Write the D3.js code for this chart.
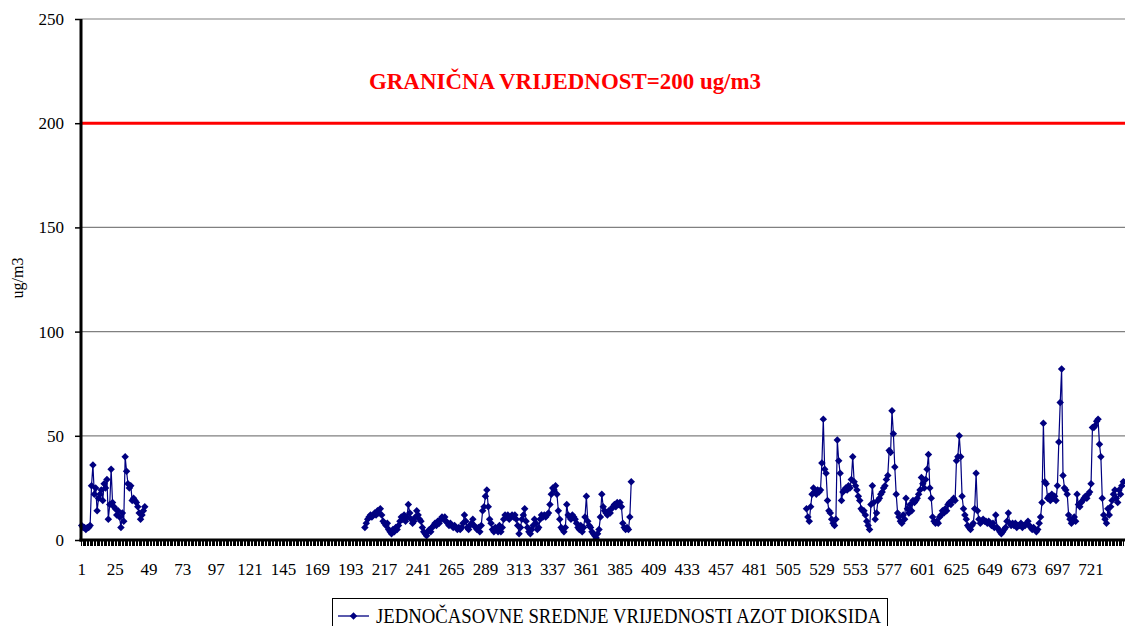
<!DOCTYPE html>
<html>
<head>
<meta charset="utf-8">
<script src="https://cdn.jsdelivr.net/npm/d3@7"></script>
<style>
  html, body { margin: 0; padding: 0; background: #fff; overflow: hidden; }
  svg { display: block; }
  svg text { font-family: 'Liberation Serif', 'Times New Roman', Times, serif; }
</style>
</head>
<body>
<div class="chart"></div>
<script>
// hourly NO2 means for one month (744 h), measured in three runs
const hourCount = 744;
const xTickLabels = [1, 25, 49, 73, 97, 121, 145, 169, 193, 217, 241, 265, 289, 313, 337, 361, 385, 409, 433, 457, 481, 505, 529, 553, 577, 601, 625, 649, 673, 697, 721];
const yTicks = [0, 50, 100, 150, 200, 250];
const limitValue = 200;
const limitLabel = 'GRANIČNA VRIJEDNOST=200 ug/m3';
const seriesName = 'JEDNOČASOVNE SREDNJE VRIJEDNOSTI AZOT DIOKSIDA';
const yTitle = 'ug/m3';

const seg1Start = 1;
const seg1Values = [7, 6, 6, 5, 6, 6, 7, 26, 36, 22, 25, 14, 20, 22, 24, 19, 27, 25, 29, 10,
  17, 34, 18, 16, 15, 12, 14, 11, 6, 13, 9,
  40, 33, 27, 25, 26, 19, 20, 19, 18, 16, 13, 10, 12, 14, 16];

const seg2Start = 203;
const seg2Values = [6, 8, 10, 11, 12, 11, 12, 13, 12, 14,
  13, 15, 12, 9, 8, 7, 8, 5, 4, 3,
  5, 4, 6, 5, 7, 9, 11, 10, 12, 9,
  11, 17, 13, 10, 8, 9, 11, 14, 12, 10,
  9, 6, 4, 3, 2, 4, 5, 4, 6, 7,
  8, 7, 9, 8, 10, 11, 10, 11, 9, 8,
  7, 8, 7, 6, 7, 6, 5, 6, 5, 6,
  8, 12, 9, 6, 5, 7, 8, 10, 7, 6,
  5, 6, 4, 7, 14, 16, 21, 24, 16, 10,
  8, 5, 4, 6, 5, 4, 7, 4, 6, 10,
  12, 11, 12, 10, 11, 12, 11, 12, 10, 7,
  3, 6, 10, 12, 15, 9, 6, 4, 3, 5,
  7, 10, 8, 5, 6, 10, 12, 11, 12, 11,
  12, 13, 17, 22, 25, 24, 26, 22, 14, 10,
  6, 5, 4, 6, 17, 12, 11, 10, 12, 11,
  10, 8, 6, 5, 7, 4, 6, 11, 21, 9,
  7, 6, 4, 3, 2, 1, 3, 5, 11, 22,
  16, 14, 13, 12, 14, 13, 15, 16, 17, 16,
  18, 17, 18, 16, 8, 6, 5, 6, 5, 11,
  28];

const seg3Start = 518;
const seg3Values = [15, 11, 9, 16, 22, 25, 23, 22, 24, 23,
  24, 37, 58, 34, 32, 19, 14, 13, 10, 8,
  7, 10, 48, 38, 32, 19, 23, 24, 25, 24,
  26, 25, 29, 40, 28, 26, 24, 21, 19, 15,
  14, 14, 12, 9, 7, 5, 17, 26, 18, 10,
  13, 19, 20, 22, 23, 25, 26, 29, 31, 43,
  42, 62, 51, 35, 22, 13, 11, 9, 8, 12,
  10, 20, 15, 13, 17, 14, 19, 18, 19, 20,
  22, 24, 30, 27, 25, 29, 34, 41, 25, 20,
  11, 9, 8, 9, 8, 11, 12, 14, 13, 15,
  14, 17, 18, 17, 19, 20, 19, 38, 40, 50,
  40, 21, 15, 12, 10, 7, 6, 5, 7, 8,
  15, 32, 14, 10, 8, 9, 10, 9, 9, 8,
  9, 8, 7, 8, 6, 12, 6, 5, 4, 3,
  4, 5, 6, 9, 13, 8, 7, 8, 7, 8,
  6, 7, 7, 8, 6, 7, 7, 8, 9, 7,
  6, 5, 6, 5, 4, 5, 8, 11, 18, 56,
  28, 27, 20, 21, 19, 22, 20, 21, 19, 26,
  47, 66, 82, 31, 25, 24, 22, 12, 10, 8,
  10, 11, 9, 22, 17, 16, 18, 19, 20, 21,
  20, 22, 23, 27, 54, 54, 55, 57, 58, 46,
  40, 20, 12, 10, 8, 15, 12, 16, 19, 22,
  24, 20, 18, 24, 22, 26, 28];

const WIDTH = 1125;
const HEIGHT = 626;
const MARGINS = {top: 19, right: 1, bottom: 86, left: 81};
const NAVY = '#000080';

const hours = d3.range(1, hourCount + 1);
const hourly = new Array(hourCount).fill(null);
[[seg1Start, seg1Values], [seg2Start, seg2Values], [seg3Start, seg3Values]].forEach(([start, vals]) => {
  vals.forEach((v, i) => { hourly[start - 1 + i] = v; });
});
const points = hours.map((h, i) => ({h: h, v: hourly[i]}));

const svg = d3.select('.chart')
  .append('svg')
  .attr('width', WIDTH)
  .attr('height', HEIGHT);

const xRange = d3.scaleBand()
  .domain(hours)
  .range([MARGINS.left, WIDTH - MARGINS.right])
  .padding(0);
const cx = h => xRange(h) + xRange.bandwidth() / 2;

const yRange = d3.scaleLinear()
  .domain([0, 250])
  .range([HEIGHT - MARGINS.bottom, MARGINS.top]);

// gridlines
svg.selectAll('.grid')
  .data(yTicks.filter(t => t !== 0 && t !== limitValue))
  .enter()
  .append('line')
  .attr('x1', MARGINS.left)
  .attr('x2', WIDTH)
  .attr('y1', d => yRange(d))
  .attr('y2', d => yRange(d))
  .attr('stroke', '#808080')
  .attr('stroke-width', 1.2);

// limit line
svg.append('line')
  .attr('x1', MARGINS.left)
  .attr('x2', WIDTH)
  .attr('y1', yRange(limitValue))
  .attr('y2', yRange(limitValue))
  .attr('stroke', '#ff0000')
  .attr('stroke-width', 3);

svg.append('text')
  .text(limitLabel)
  .attr('x', 369)
  .attr('y', 89)
  .attr('textLength', 392)
  .attr('lengthAdjust', 'spacingAndGlyphs')
  .style('font-size', '23px')
  .style('font-weight', 'bold')
  .style('fill', '#ff0000');

// x ticks (one per hour)
const xTicksG = svg.append('g')
  .attr('transform', 'translate(0,' + yRange(0) + ')')
  .call(d3.axisBottom(xRange).tickValues(hours).tickFormat('').tickSize(6).tickSizeOuter(0));
xTicksG.select('path').style('display', 'none');
xTicksG.selectAll('line').attr('stroke', '#000').attr('shape-rendering', 'crispEdges');

const xLabelsG = svg.append('g')
  .attr('transform', 'translate(0,' + yRange(0) + ')')
  .call(d3.axisBottom(xRange).tickValues(xTickLabels).tickSize(0).tickSizeOuter(0));
xLabelsG.attr('font-family', null);
xLabelsG.select('path').style('display', 'none');
xLabelsG.selectAll('text')
  .attr('y', 35)
  .attr('dy', 0)
  .style('font-size', '17px')
  .style('fill', '#000');

// y axis
const yAxisG = svg.append('g')
  .attr('transform', 'translate(' + MARGINS.left + ',0)')
  .call(d3.axisLeft(yRange).tickValues(yTicks).tickSize(6).tickSizeOuter(0).tickPadding(11));
yAxisG.attr('font-family', null);
yAxisG.select('path').style('display', 'none');
yAxisG.selectAll('line').attr('stroke', '#000').attr('stroke-width', 1.5);
yAxisG.selectAll('text')
  .style('font-size', '17px')
  .style('fill', '#000');

svg.append('text')
  .text(yTitle)
  .attr('transform', 'translate(23,' + 278 + ') rotate(-90)')
  .attr('text-anchor', 'middle')
  .style('font-size', '16px')
  .style('fill', '#000');

// series
const lineFunction = d3.line()
  .defined(d => d.v != null)
  .x(d => cx(d.h))
  .y(d => yRange(d.v))
  .curve(d3.curveLinear);

svg.append('path')
  .attr('d', lineFunction(points))
  .attr('fill', 'none')
  .attr('stroke', NAVY)
  .attr('stroke-width', 1.2);

const diamond = d3.symbol(d3.symbolSquare, 28);
svg.selectAll('.marker')
  .data(points.filter(d => d.v != null))
  .enter()
  .append('path')
  .attr('d', diamond)
  .attr('transform', d => 'translate(' + cx(d.h) + ',' + yRange(d.v) + ') rotate(45)')
  .attr('fill', NAVY);

// axis lines on top
svg.append('line')
  .attr('x1', MARGINS.left)
  .attr('x2', MARGINS.left)
  .attr('y1', MARGINS.top)
  .attr('y2', yRange(0) + 1.5)
  .attr('stroke', '#000')
  .attr('stroke-width', 3);
svg.append('line')
  .attr('x1', MARGINS.left - 1.5)
  .attr('x2', WIDTH)
  .attr('y1', yRange(0))
  .attr('y2', yRange(0))
  .attr('stroke', '#000')
  .attr('stroke-width', 3);

// legend
const legend = svg.append('g');
legend.append('rect')
  .attr('x', 332.5)
  .attr('y', 598.5)
  .attr('width', 555)
  .attr('height', 40)
  .attr('fill', '#fff')
  .attr('stroke', '#000')
  .attr('stroke-width', 1);
legend.append('line')
  .attr('x1', 338)
  .attr('x2', 369)
  .attr('y1', 616)
  .attr('y2', 616)
  .attr('stroke', NAVY)
  .attr('stroke-width', 1.3);
legend.append('path')
  .attr('d', diamond)
  .attr('transform', 'translate(353.5,616) rotate(45)')
  .attr('fill', NAVY);
legend.append('text')
  .text(seriesName)
  .attr('x', 376)
  .attr('y', 623)
  .attr('textLength', 505)
  .attr('lengthAdjust', 'spacingAndGlyphs')
  .style('font-size', '20px')
  .style('fill', '#000');
</script>
</body>
</html>
